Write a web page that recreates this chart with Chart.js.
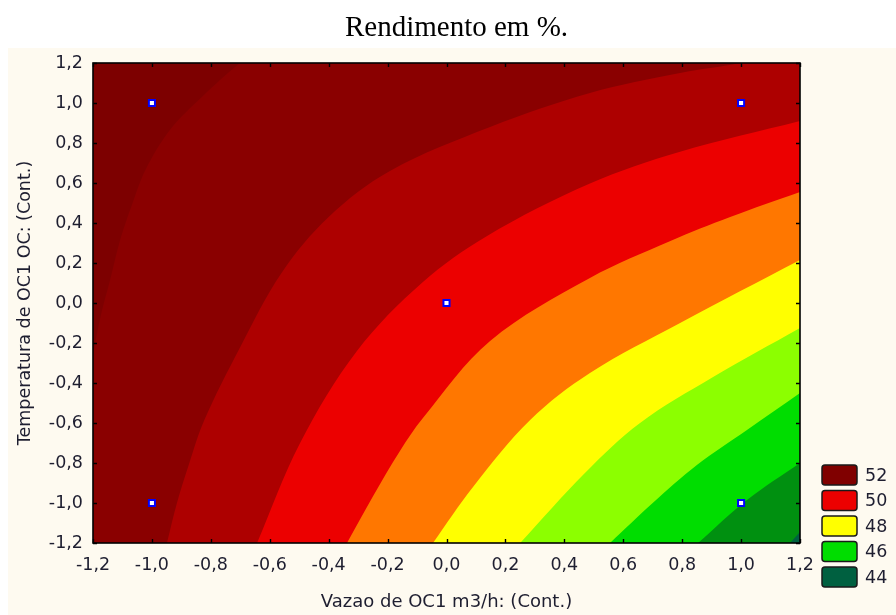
<!DOCTYPE html>
<html>
<head>
<meta charset="utf-8">
<script src="https://cdn.jsdelivr.net/npm/chart.js@4.4.1/dist/chart.umd.min.js"></script>
<style>
  html, body { margin: 0; padding: 0; background: #ffffff; }
  canvas { display: block; }
</style>
</head>
<body>
<canvas id="chart" width="896" height="615"></canvas>
<script>
// Axis ticks (coded factor levels)
const xTicks = [-1.2, -1.0, -0.8, -0.6, -0.4, -0.2, 0.0, 0.2, 0.4, 0.6, 0.8, 1.0, 1.2];
const yTicks = [-1.2, -1.0, -0.8, -0.6, -0.4, -0.2, 0.0, 0.2, 0.4, 0.6, 0.8, 1.0, 1.2];

// Design points of the experiment
const designX = [-1, 1, 0, -1, 1];
const designY = [1, 1, 0, -1, -1];

// Legend levels (yield, %)
const legendLevels = ['52', '50', '48', '46', '44'];

// Contour edges, each one separating a band from the next lower band
// (x = Vazao, y = Temperatura); listed from the top-left corner downwards.
// Edges that leave through the top edge run on just above it.
const edgeTop = [[-1.2, 1.3], [1.2, 1.3]];
const edge1 = [[-1.2, -0.26], [-1.186, -0.15], [-1.169, -0.035], [-1.142, 0.115], [-1.108, 0.315],
               [-1.068, 0.49], [-1.022, 0.665], [-0.939, 0.865], [-0.827, 1.035], [-0.701, 1.2],
               [-0.62, 1.28], [1.2, 1.3]];
const edge2 = [[-0.949, -1.2], [-0.915, -1.0], [-0.873, -0.80], [-0.822, -0.585], [-0.70, -0.22],
               [-0.56, 0.15], [-0.40, 0.43], [-0.192, 0.66], [0.148, 0.88], [0.487, 1.05],
               [0.793, 1.15], [0.997, 1.2], [1.1, 1.24], [1.2, 1.27]];
const edge3 = [[-0.643, -1.2], [-0.497, -0.70], [-0.304, -0.24], [-0.080, 0.105], [0.135, 0.333],
               [0.487, 0.597], [0.793, 0.756], [1.2, 0.91]];
const edge4 = [[-0.338, -1.2], [-0.249, -0.965], [-0.158, -0.74], [-0.080, -0.575], [0.148, -0.19],
               [0.487, 0.125], [0.76, 0.31], [0.963, 0.43], [1.2, 0.555]];
const edge5 = [[-0.046, -1.2], [0.090, -0.92], [0.284, -0.585], [0.487, -0.35], [0.793, -0.10],
               [1.2, 0.215]];
const edge6 = [[0.250, -1.2], [0.470, -0.85], [0.657, -0.60], [0.905, -0.37], [1.2, -0.125]];
const edge7 = [[0.555, -1.2], [0.70, -1.0], [0.85, -0.81], [1.020, -0.635], [1.2, -0.45]];
const edge8 = [[0.854, -1.2], [1.020, -0.985], [1.2, -0.80]];
const edge9 = [[1.166, -1.2], [1.2, -1.145]];

const edges = [edgeTop, edge1, edge2, edge3, edge4, edge5, edge6, edge7, edge8, edge9];

// Band colours, highest yield first
const bandColors = ['#7d0000', '#8a0000', '#ad0000', '#ec0000', '#ff7700',
                    '#ffff00', '#8cff00', '#00dd00', '#009010', '#006040'];
const legendColors = ['#800000', '#ec0000', '#ffff00', '#00dd00', '#006040'];

const tickFont = { family: "'DejaVu Sans', sans-serif", size: 17.5 };
const textColor = '#1e1e30';
const fmt = v => (Math.abs(v) < 1e-9 ? '0,0' : Number(v).toFixed(1).replace('.', ','));

const bandSets = edges.map((pts, i) => ({
  type: 'line',
  data: pts.map(([x, y]) => ({ x, y })),
  backgroundColor: bandColors[i],
  borderColor: 'rgba(0,0,0,0)',
  borderWidth: 0,
  pointRadius: 0,
  fill: 'start',
  tension: 0.35,
  order: 100 - i
}));

const pointSet = {
  type: 'line',
  data: designX.map((x, i) => ({ x, y: designY[i] })),
  showLine: false,
  pointStyle: 'rect',
  pointRadius: 4.3,
  pointBorderWidth: 2,
  pointBorderColor: '#0000ff',
  pointBackgroundColor: '#ffffff',
  order: 0
};

const pagePlugin = {
  id: 'page',
  beforeDraw(chart) {
    const ctx = chart.ctx;
    ctx.save();
    ctx.fillStyle = '#ffffff';
    ctx.fillRect(0, 0, chart.width, chart.height);
    ctx.fillStyle = '#fefaf0';
    ctx.fillRect(8, 48, chart.width - 8, chart.height - 48);
    ctx.restore();
  },
  afterDraw(chart) {
    const ctx = chart.ctx;
    const a = chart.chartArea;
    const xs = chart.scales.x, ys = chart.scales.y;
    ctx.save();
    // frame
    ctx.strokeStyle = '#000000';
    ctx.lineWidth = 1.6;
    ctx.strokeRect(a.left, a.top, a.right - a.left, a.bottom - a.top);
    // inward tick marks on all four sides
    ctx.lineWidth = 1.4;
    ctx.beginPath();
    xTicks.forEach(v => {
      const p = Math.round(xs.getPixelForValue(v)) + 0.5;
      ctx.moveTo(p, a.bottom); ctx.lineTo(p, a.bottom - 4);
      ctx.moveTo(p, a.top); ctx.lineTo(p, a.top + 4);
    });
    yTicks.forEach(v => {
      const p = Math.round(ys.getPixelForValue(v)) + 0.5;
      ctx.moveTo(a.left, p); ctx.lineTo(a.left + 4, p);
      ctx.moveTo(a.right, p); ctx.lineTo(a.right - 4, p);
    });
    ctx.stroke();
    // title
    ctx.fillStyle = '#000000';
    ctx.font = "29px 'Liberation Serif', 'Times New Roman', serif";
    ctx.textAlign = 'center';
    ctx.textBaseline = 'middle';
    ctx.fillText('Rendimento em %.', 456.5, 28);
    // legend
    legendLevels.forEach((lab, i) => {
      const top = 465 + i * 25.5;
      ctx.beginPath();
      ctx.roundRect(822, top, 35, 20, 3);
      ctx.fillStyle = legendColors[i];
      ctx.fill();
      ctx.lineWidth = 1.5;
      ctx.strokeStyle = '#1a1a1a';
      ctx.stroke();
      ctx.fillStyle = textColor;
      ctx.font = "17.5px 'DejaVu Sans', sans-serif";
      ctx.textAlign = 'left';
      ctx.textBaseline = 'middle';
      ctx.fillText(lab, 865, top + 11);
    });
    ctx.restore();
  }
};

new Chart(document.getElementById('chart'), {
  type: 'line',
  data: { datasets: [pointSet, ...bandSets] },
  options: {
    responsive: false,
    animation: false,
    events: [],
    layout: { padding: { top: 63, right: 96, bottom: 0, left: 0 } },
    plugins: { legend: { display: false }, tooltip: { enabled: false }, title: { display: false } },
    scales: {
      x: {
        type: 'linear',
        min: -1.2,
        max: 1.2,
        afterBuildTicks: s => { s.ticks = xTicks.map(v => ({ value: v })); },
        afterFit: s => { s.height = 72; },
        grid: { display: false, drawTicks: false },
        border: { display: false },
        ticks: { callback: fmt, color: textColor, font: tickFont, padding: 12, maxRotation: 0, autoSkip: false },
        title: {
          display: true,
          text: 'Vazao de OC1 m3/h: (Cont.)',
          color: textColor,
          font: { family: "'DejaVu Sans', sans-serif", size: 18 },
          padding: { top: 0, bottom: 2 }
        }
      },
      y: {
        type: 'linear',
        min: -1.2,
        max: 1.2,
        afterBuildTicks: s => { s.ticks = yTicks.map(v => ({ value: v })); },
        afterFit: s => { s.width = 93; },
        grid: { display: false, drawTicks: false },
        border: { display: false },
        ticks: { callback: fmt, color: textColor, font: tickFont, padding: 10, autoSkip: false },
        title: {
          display: true,
          text: 'Temperatura de OC1 OC: (Cont.)',
          color: textColor,
          font: { family: "'DejaVu Sans', sans-serif", size: 17.5 },
          padding: { top: 15, bottom: 0 }
        }
      }
    }
  },
  plugins: [pagePlugin]
});
</script>
</body>
</html>
